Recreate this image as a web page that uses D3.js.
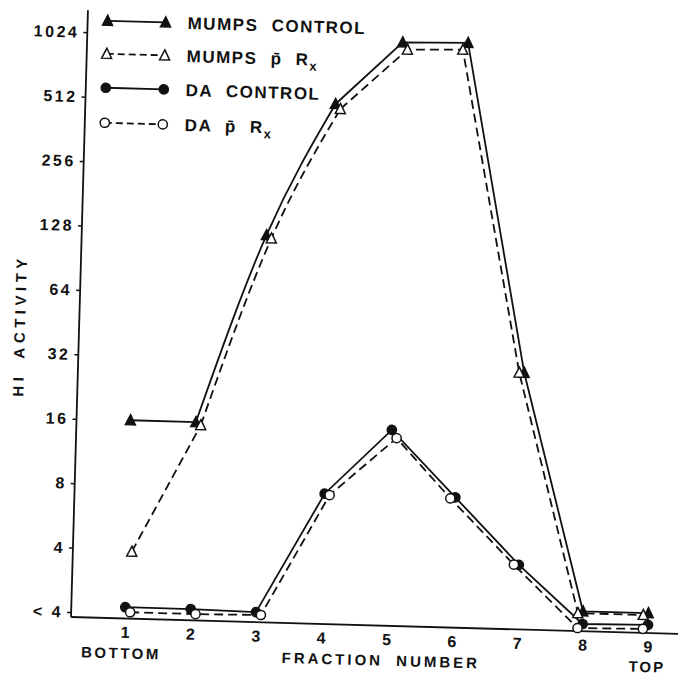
<!DOCTYPE html>
<html>
<head>
<meta charset="utf-8">
<script src="https://cdn.jsdelivr.net/npm/d3@7/dist/d3.min.js"></script>
<style>
  html, body { margin: 0; padding: 0; background: #fff; }
  svg { display: block; }
  text { font-family: "Liberation Sans", Arial, sans-serif; fill: #111; }
</style>
</head>
<body>
<svg id="chart" width="678" height="676"></svg>
<script>
// ---- data ----
const fractions = [1, 2, 3, 4, 5, 6, 7, 8, 9];
const mumpsControl = [16, 16, 122, 510, 1010, 1024, 30, 2.35, 2.35];
const mumpsRx      = [3.9, 15.5, 118, 484, 935, 950, 30, 2.3, 2.3];
const daControl    = [2.14, 2.14, 2.11, 7.7, 15.6, 7.7, 3.8, 2.05, 2.07];
const daRx         = [2.03, 2.03, 2.05, 7.6, 14.3, 7.6, 3.8, 1.96, 1.98];
const yTickValues = [2, 4, 8, 16, 32, 64, 128, 256, 512, 1024];
const yTickLabels = ["< 4", "4", "8", "16", "32", "64", "128", "256", "512", "1024"];
const xTickLabels = ["1", "2", "3", "4", "5", "6", "7", "8", "9"];
const seriesNames = ["MUMPS CONTROL", "MUMPS p\u0304 R", "DA CONTROL", "DA p\u0304 R"];

// ---- layout ----
const svg = d3.select("#chart");
const g = svg.append("g").attr("transform", "translate(71,617) rotate(1.6)");

const x = d3.scaleLinear().domain([1, 9]).range([54, 577]);
const y = d3.scaleLog().base(2).domain([2, 1024]).range([-5, -585]);

// axes
g.append("line").attr("x1", 0).attr("y1", 0).attr("x2", 0).attr("y2", -607)
  .attr("stroke", "#111").attr("stroke-width", 1.8);
g.append("line").attr("x1", 0).attr("y1", 0).attr("x2", 640).attr("y2", 0)
  .attr("stroke", "#111").attr("stroke-width", 1.8);

const yAxis = d3.axisLeft(y).tickValues(yTickValues)
  .tickFormat((d, i) => yTickLabels[i]).tickSize(4).tickPadding(4);
const ya = g.append("g").call(yAxis);
ya.select(".domain").remove();
ya.selectAll(".tick line").attr("stroke", "#111").attr("stroke-width", 1.5);
ya.selectAll(".tick text").attr("font-size", 16).attr("font-weight", "bold")
  .attr("letter-spacing", 2.5)
  .attr("font-family", "Liberation Sans, Arial, sans-serif").attr("fill", "#111");

const xAxis = d3.axisBottom(x).tickValues(fractions)
  .tickFormat((d, i) => xTickLabels[i]).tickSize(0).tickPadding(8);
const xa = g.append("g").call(xAxis);
xa.select(".domain").remove();
xa.selectAll(".tick text").attr("font-size", 16).attr("font-weight", "bold")
  .attr("font-family", "Liberation Sans, Arial, sans-serif").attr("fill", "#111");

// axis titles
g.append("text").attr("x", x(1) - 3).attr("y", 40).attr("text-anchor", "middle")
  .attr("font-size", 15).attr("font-weight", "bold").attr("letter-spacing", 2.5)
  .text("BOTTOM");
g.append("text").attr("x", x(4.93)).attr("y", 40).attr("text-anchor", "middle")
  .attr("font-size", 15).attr("font-weight", "bold").attr("letter-spacing", 3)
  .attr("word-spacing", 6).text("FRACTION NUMBER");
g.append("text").attr("x", x(9)).attr("y", 39).attr("text-anchor", "middle")
  .attr("font-size", 15).attr("font-weight", "bold").attr("letter-spacing", 2)
  .text("TOP");
g.append("text").attr("transform", "translate(-54,-290) rotate(-90)")
  .attr("text-anchor", "middle").attr("font-size", 15).attr("font-weight", "bold")
  .attr("letter-spacing", 4.5).attr("word-spacing", 6).text("HI ACTIVITY");

// ---- series ----
// treated (Rx) curves were drawn just beside the controls: right of them on the
// rising side, left of them on the falling side
const besideRight = f => (f <= 5 ? 5 : -5);
const series = [
  { vals: mumpsControl, dash: null, marker: "tri", fill: "#111", dx: () => 0 },
  { vals: mumpsRx, dash: "9,5", marker: "tri", fill: "#fff", dx: besideRight },
  { vals: daControl, dash: null, marker: "circ", fill: "#111", dx: () => 0 },
  { vals: daRx, dash: "9,5", marker: "circ", fill: "#fff", dx: besideRight }
];

const lin = d3.line().x(d => d[0]).y(d => d[1]);
const smooth = d3.line().x(d => d[0]).y(d => d[1]).curve(d3.curveMonotoneX);

series.forEach((s, si) => {
  const pts = fractions.map((f, i) => [x(f) + s.dx(f), y(s.vals[i])]);
  const addPath = (p, gen) => {
    g.append("path").attr("d", gen(p)).attr("fill", "none")
      .attr("stroke", "#111").attr("stroke-width", 1.8)
      .attr("stroke-dasharray", s.dash);
  };
  if (s.marker === "tri") {
    addPath(pts.slice(0, 2), lin);
    addPath(pts.slice(1, 4), smooth);
    addPath(pts.slice(3), lin);
  } else {
    addPath(pts, lin);
  }
});

function drawMarker(sel, type, fill) {
  if (type === "tri") {
    sel.append("path").attr("d", "M0,-5.5L5,4.5L-5,4.5Z")
      .attr("fill", fill).attr("stroke", "#111").attr("stroke-width", 1.5);
  } else {
    sel.append("circle").attr("r", 4.6)
      .attr("fill", fill).attr("stroke", "#111").attr("stroke-width", 1.5);
  }
}

series.forEach(s => {
  fractions.forEach((f, i) => {
    const m = g.append("g").attr("transform", `translate(${x(f) + s.dx(f)},${y(s.vals[i])})`);
    drawMarker(m, s.marker, s.fill);
  });
});

// ---- legend ----
const legendRows = [-597, -564, -530, -495];
seriesNames.forEach((name, i) => {
  const s = series[i];
  const ly = legendRows[i];
  g.append("line").attr("x1", 20).attr("x2", 78).attr("y1", ly).attr("y2", ly)
    .attr("stroke", "#111").attr("stroke-width", 1.8)
    .attr("stroke-dasharray", s.dash ? "7,4" : null);
  [20, 78].forEach(lx => {
    const m = g.append("g").attr("transform", `translate(${lx},${ly})`);
    drawMarker(m, s.marker, s.fill);
  });
  const t = g.append("text").attr("x", 100).attr("y", ly + 6)
    .attr("font-size", 17).attr("font-weight", "bold").attr("letter-spacing", 1.5)
    .attr("word-spacing", 7);
  t.text(name);
  if (i % 2 === 1) {
    t.append("tspan").attr("font-size", 13).attr("dy", 5).text("x");
  }
});
</script>
</body>
</html>
